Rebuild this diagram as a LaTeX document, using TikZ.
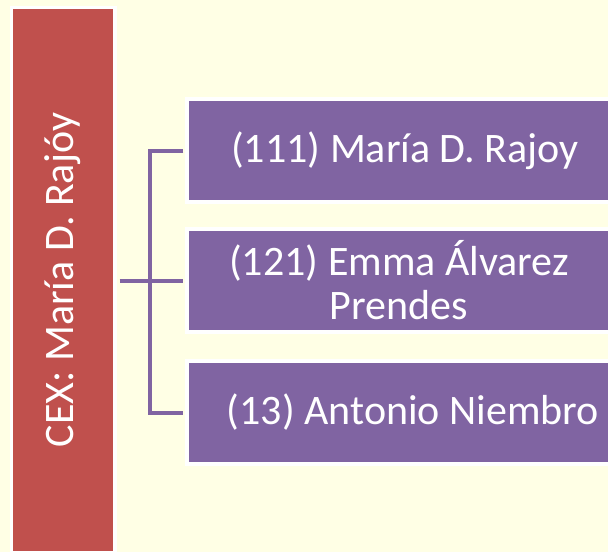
\documentclass[tikz,border=0pt]{standalone}
\usepackage{fontspec}
\setmainfont{Carlito}
\usepackage{xcolor}
\usetikzlibrary{positioning,calc}
\definecolor{bgyellow}{RGB}{255,255,229}
\definecolor{cexred}{RGB}{192,80,77}
\definecolor{memberpurple}{RGB}{128,100,162}

\begin{document}
\begin{tikzpicture}[x=1pt,y=-1pt,
        cexbar/.style={draw=white,line width=3.5pt,fill=cexred,text=white,
            minimum width=103.5pt,minimum height=545.5pt,inner sep=0pt},
        member/.style={draw=white,line width=4pt,fill=memberpurple,text=white,
            anchor=west,minimum width=435.5pt,minimum height=103.5pt,inner sep=0pt,
            align=center,font=\fontsize{42}{44}\selectfont},
        link/.style={draw=memberpurple,line width=4pt}]
        % Page and background
        \clip (0,0) rectangle (608,552);
        \fill[bgyellow] (0,0) rectangle (608,552);

        % Red bar with rotated title
        \node[cexbar] (cex) at (63,280)
            {\rotatebox{90}{\fontsize{42}{40}\selectfont CEX: María D. Rajóy}};

        % Member boxes (they run off the right edge)
        \node[member] (m111) at (185.25,150.5) {(111) María D. Rajoy};
        \node[member,minimum width=423.5pt] (m121) at (185.25,280.5)
            {(121) Emma Álvarez\\Prendes};
        \node[member,minimum width=451.5pt] (m13) at (185.25,412.5)
            {(13) Antonio Niembro};

        % Bracket
        \coordinate (jn) at (150,150);
        \draw[link,shorten <=2pt,shorten >=2pt]
            (m111.west) -- (jn |- m111.west) -- (jn |- m13.west) -- (m13.west);
        \draw[link,shorten <=3pt,shorten >=2pt] (cex.east |- m121.west) -- (m121.west);
    \end{tikzpicture}
\end{document}
